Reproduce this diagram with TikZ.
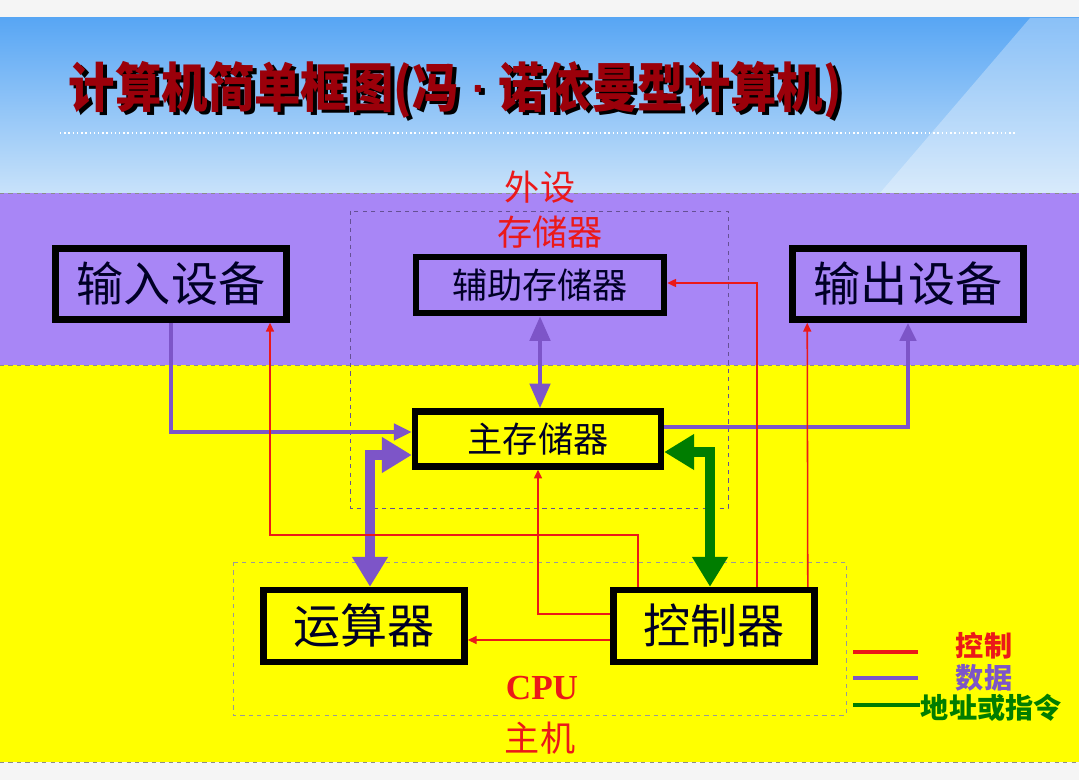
\documentclass[tikz,border=0pt]{standalone}
\usepackage{fontspec}
\setmainfont{Liberation Serif}
\newfontfamily\cjk{Noto Sans CJK SC}
\usepackage{tikz}
\usetikzlibrary{arrows.meta,positioning,calc}
\definecolor{lilla}{RGB}{168,134,246}
\definecolor{gul}{RGB}{255,255,0}
\definecolor{datafarve}{RGB}{125,85,200}
\definecolor{styrfarve}{RGB}{235,25,25}
\definecolor{adrfarve}{RGB}{0,125,0}
\definecolor{titelfarve}{RGB}{155,0,10}
\definecolor{himmeltop}{RGB}{88,166,244}
\definecolor{himmelbund}{RGB}{200,226,250}
\newcommand{\titeltekst}{\scalebox{1}[1.15]{计算机简单框图(冯{\sffamily\bfseries ·}诺依曼型计算机)}}
\tikzset{
  %Define standard arrow tip
  >={Triangle[length=0.45cm,width=0.4cm]},
  %Define style for boxes
  boks/.style={
    rectangle,
    draw=black, line width=4.5pt,
    text=black!85!blue,
    font=\cjk\fontsize{33.5}{36}\selectfont,
    minimum width=5.78cm,
    minimum height=1.78cm,
    inner sep=0pt},
  lilleboks/.style={
    boks,
    font=\cjk\fontsize{25}{30}\selectfont,
    minimum width=6.2cm,
    minimum height=1.4cm},
  % Define arrow styles
  datapil/.style={->, line width=3.5pt, draw=datafarve},
  tykpil/.style={line width=7pt,
    {Triangle[length=0.75cm,width=0.85cm]}-{Triangle[length=0.75cm,width=0.85cm]}},
  styrpil/.style={line width=1.1pt, draw=styrfarve,
    -{Triangle[length=0.22cm,width=0.2cm]}},
  % Define label styles
  etiket/.style={font=\cjk\fontsize{25}{30}\selectfont, text=styrfarve},
  titelstil/.style={anchor=west, font=\cjk\bfseries\fontsize{33}{36}\selectfont}
}

\begin{document}
\begin{tikzpicture}[x=0.025cm,y=-0.025cm]
  \useasboundingbox (0,0) rectangle (1079,780);
  % background bands
  \fill[black!4] (0,0) rectangle (1079,780);
  \shade[top color=himmeltop, bottom color=himmelbund] (0,18) rectangle (1079,193);
  \fill[white, opacity=0.3] (1030,18) -- (1079,18) -- (1079,193) -- (880,193) -- cycle;
  \fill[lilla] (0,193) rectangle (1079,365);
  \fill[gul] (0,365) rectangle (1079,762);
  \draw[black!45, dashed] (0,193) -- (1079,193) (0,365) -- (1079,365) (0,762) -- (1079,762);
  \draw[white, line width=1.5pt, dash pattern=on 1pt off 2pt] (60,133) -- (1015,133);

  % title with shadow
  \node[titelstil, text=black] (skygge) at (68,93) {\titeltekst};
  \node[titelstil, text=titelfarve] (titel) at (64,90) {\titeltekst};

  % dashed groups
  \draw[black!40!lilla, dashed] (350,211) rectangle (728,508);
  \draw[black!40, dashed] (233,562) rectangle (846,715);

  % units
  \node[boks] (inp) at (171,284) {输入设备};
  \node[lilleboks] (aux) at (540,285) {辅助存储器};
  \node[boks] (out) at (908,284) {输出设备};
  \node[lilleboks, minimum width=6.15cm, minimum height=1.375cm] (mem) at (538,439) {主存储器};
  \node[boks, minimum width=5.03cm, minimum height=1.8cm] (alu) at (364,626) {运算器};
  \node[boks, minimum width=5.03cm, minimum height=1.8cm] (ctl) at (714,626) {控制器};

  % labels
  \node[etiket] (wai) at (540,187) {外设};
  \node[etiket] (cun) at (550,232) {存储器};
  \node[text=styrfarve, font=\bfseries\fontsize{25}{30}\selectfont] (cpu) at (542,688) {CPU};
  \node[etiket] (zhuji) at (540,738) {主机};

  % data
  \draw[datapil] (inp.south) |- ($(mem.west)+(0,-7)$);
  \draw[datapil] ($(mem.east)+(0,-12)$) -| (out.south);
  \draw[datapil, {Triangle[length=0.62cm,width=0.5cm]}-{Triangle[length=0.62cm,width=0.5cm]}]
    (aux.south) -- (aux.south |- mem.north);
  \draw[tykpil, draw=datafarve] ($(mem.west)+(0,16)$) -| ($(alu.north)+(6,0)$);
  % address / instruction
  \draw[tykpil, draw=adrfarve] ($(mem.east)+(0,13)$) -| ($(ctl.north)+(-4,0)$);
  % control
  \draw[styrpil] ($(ctl.west)+(0,14)$) -- ($(alu.east)+(0,14)$);
  \draw[styrpil] ($(ctl.west)+(0,-12)$) -| (mem.south);
  \draw[styrpil] ($(ctl.north west)+(28,0)$) -- ++(0,-52) -| ($(inp.south)+(99,0)$);
  \draw[styrpil] ($(ctl.north east)+(-61,0)$) |- ($(aux.east)+(0,-2)$);
  \draw[styrpil] ($(ctl.north east)+(-10,0)$) -- ($(out.south west)+(18,0)$);

  % legend
  \draw[styrfarve, line width=3.5pt] (853,652) -- (918,652);
  \draw[datafarve, line width=3.5pt] (853,678) -- (918,678);
  \draw[adrfarve, line width=3.5pt] (853,705) -- (920,705);
  \node[text=styrfarve, font=\cjk\bfseries\fontsize{20}{24}\selectfont] (lstyr) at (984,646) {控制};
  \node[text=datafarve, font=\cjk\bfseries\fontsize{20}{24}\selectfont] (ldata) at (984,678) {数据};
  \node[text=adrfarve, font=\cjk\bfseries\fontsize{20}{24}\selectfont, anchor=west] (ladr) at (916,708) {地址或指令};
\end{tikzpicture}
\end{document}
